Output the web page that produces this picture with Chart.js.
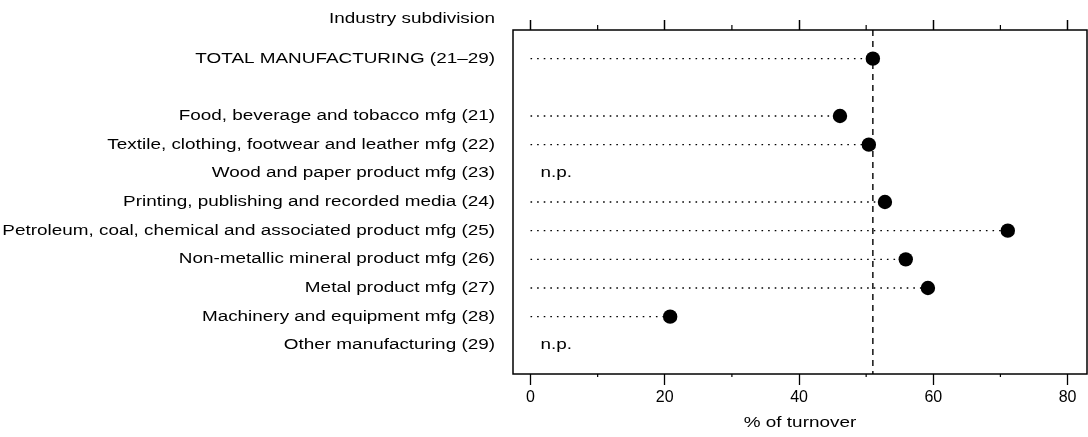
<!DOCTYPE html>
<html>
<head>
<meta charset="utf-8">
<script src="https://cdn.jsdelivr.net/npm/chart.js@4.4.1/dist/chart.umd.min.js"></script>
<style>
html,body{margin:0;padding:0;background:#fff;}
#wrap{width:1088px;height:437px;position:relative;}
</style>
</head>
<body>
<div id="wrap"><canvas id="c"></canvas></div>
<script>
// ---- data ----
const categories = [
  "TOTAL MANUFACTURING (21\u201329)",
  "",
  "Food, beverage and tobacco mfg (21)",
  "Textile, clothing, footwear and leather mfg (22)",
  "Wood and paper product mfg (23)",
  "Printing, publishing and recorded media (24)",
  "Petroleum, coal, chemical and associated product mfg (25)",
  "Non-metallic mineral product mfg (26)",
  "Metal product mfg (27)",
  "Machinery and equipment mfg (28)",
  "Other manufacturing (29)"
];
const values = [51.0, null, 46.1, 50.4, null, 52.8, 71.1, 55.9, 59.2, 20.8, null];
const notPublished = [false, false, false, false, true, false, false, false, false, false, true];
const xMajorTicks = [0, 20, 40, 60, 80];
const xMinorTicks = [10, 30, 50, 70];
const headerText = "Industry subdivision";
const xTitle = "% of turnover";
const npText = "n.p.";

// ---- styling ----
const FONT = "'Liberation Sans', Arial, Helvetica, sans-serif";
const STRETCH = 1.35;
const LABEL_SIZE = 14;

const datasets = [];
values.forEach((v, i) => {
  if (v === null) return;
  datasets.push({
    data: [{x: 0, y: i}, {x: v, y: i}],
    showLine: true,
    borderColor: '#000',
    borderWidth: 1.3,
    borderDash: [1.6, 5],
    pointRadius: 0,
    order: 2
  });
});
datasets.push({
  data: [{x: values[0], y: -1}, {x: values[0], y: 11}],
  showLine: true,
  borderColor: '#000',
  borderWidth: 1.4,
  borderDash: [6, 5],
  pointRadius: 0,
  order: 3
});
datasets.push({
  data: values.map((v, i) => v === null ? null : {x: v, y: i}).filter(p => p),
  pointRadius: 7.2,
  pointBackgroundColor: '#000',
  pointBorderWidth: 0,
  order: 1
});

function stretchAround(ctx, ax, k, fn) {
  ctx.save();
  ctx.translate(ax, 0);
  ctx.scale(k, 1);
  ctx.translate(-ax, 0);
  fn();
  ctx.restore();
}

function noPad(s) { s.paddingLeft = 0; s.paddingRight = 0; s.paddingTop = 0; s.paddingBottom = 0; }

const extrasPlugin = {
  id: 'extras',
  beforeDraw(chart) {
    const ys = chart.scales.y;
    if (!ys._stretched) {
      const orig = ys.drawLabels.bind(ys);
      ys.drawLabels = function (area) {
        const ax = ys.right - ys.options.ticks.padding;
        stretchAround(ys.ctx, ax, STRETCH, () => orig(area));
      };
      ys._stretched = true;
    }
    const xs = chart.scales.x;
    if (!xs._stretched) {
      const origT = xs.drawTitle.bind(xs);
      xs.drawTitle = function () {
        const ax = (xs.left + xs.right) / 2;
        stretchAround(xs.ctx, ax, STRETCH, () => origT());
      };
      xs._stretched = true;
    }
  },
  afterDatasetsDraw(chart) {
    const {ctx, chartArea: a, scales: {x, y}} = chart;
    ctx.save();
    // frame
    ctx.strokeStyle = '#000';
    ctx.lineWidth = 1.5;
    ctx.strokeRect(a.left, a.top, a.right - a.left, a.bottom - a.top);
    // minor ticks
    ctx.lineWidth = 1.2;
    xMinorTicks.forEach(v => {
      const px = x.getPixelForValue(v);
      ctx.beginPath();
      ctx.moveTo(px, a.top);
      ctx.lineTo(px, a.top - 5);
      ctx.moveTo(px, a.bottom);
      ctx.lineTo(px, a.bottom + 3);
      ctx.stroke();
    });
    // n.p. labels
    ctx.fillStyle = '#000';
    ctx.font = LABEL_SIZE + 'px ' + FONT;
    ctx.textBaseline = 'middle';
    ctx.textAlign = 'left';
    notPublished.forEach((np, i) => {
      if (!np) return;
      const px = x.getPixelForValue(0) + 10;
      const py = y.getPixelForValue(i);
      stretchAround(ctx, px, STRETCH, () => ctx.fillText(npText, px, py));
    });
    // header
    ctx.textAlign = 'right';
    const hx = y.right - y.options.ticks.padding;
    stretchAround(ctx, hx, STRETCH, () => ctx.fillText(headerText, hx, 19));
    ctx.restore();
  }
};

new Chart(document.getElementById('c'), {
  type: 'scatter',
  data: {datasets},
  plugins: [extrasPlugin],
  options: {
    responsive: true,
    maintainAspectRatio: false,
    devicePixelRatio: 1,
    animation: false,
    layout: {autoPadding: false, padding: {left: 0, right: 1, top: 0, bottom: 0}},
    plugins: {legend: {display: false}, tooltip: {enabled: false}},
    scales: {
      x: {
        type: 'linear',
        position: 'bottom',
        min: -2.61,
        max: 82.9,
        afterBuildTicks: s => { s.ticks = xMajorTicks.map(v => ({value: v})); },
        afterFit: s => { s.height = 63; noPad(s); },
        grid: {drawOnChartArea: false, drawTicks: true, tickLength: 11, tickWidth: 1.3, tickColor: '#000'},
        border: {display: false},
        ticks: {color: '#000', padding: 3, font: {family: FONT, size: 16}, maxRotation: 0, autoSkip: false},
        title: {display: true, text: xTitle, color: '#000', font: {family: FONT, size: LABEL_SIZE}, padding: {top: 0, bottom: 5}}
      },
      x2: {
        type: 'linear',
        position: 'top',
        min: -2.61,
        max: 82.9,
        afterBuildTicks: s => { s.ticks = xMajorTicks.map(v => ({value: v})); },
        afterFit: s => { s.height = 30; noPad(s); },
        grid: {drawOnChartArea: false, drawTicks: true, tickLength: 10, tickWidth: 1.5, tickColor: '#000'},
        border: {display: false},
        ticks: {display: false}
      },
      y: {
        type: 'linear',
        reverse: true,
        min: -1,
        max: 11,
        afterBuildTicks: s => { s.ticks = categories.map((c, i) => ({value: i})); },
        afterFit: s => { s.width = 513; noPad(s); },
        grid: {display: false, drawTicks: false},
        border: {display: false},
        ticks: {
          color: '#000',
          padding: 18,
          autoSkip: false,
          font: {family: FONT, size: LABEL_SIZE},
          callback: v => categories[v] ?? ''
        }
      }
    }
  }
});
</script>
</body>
</html>
